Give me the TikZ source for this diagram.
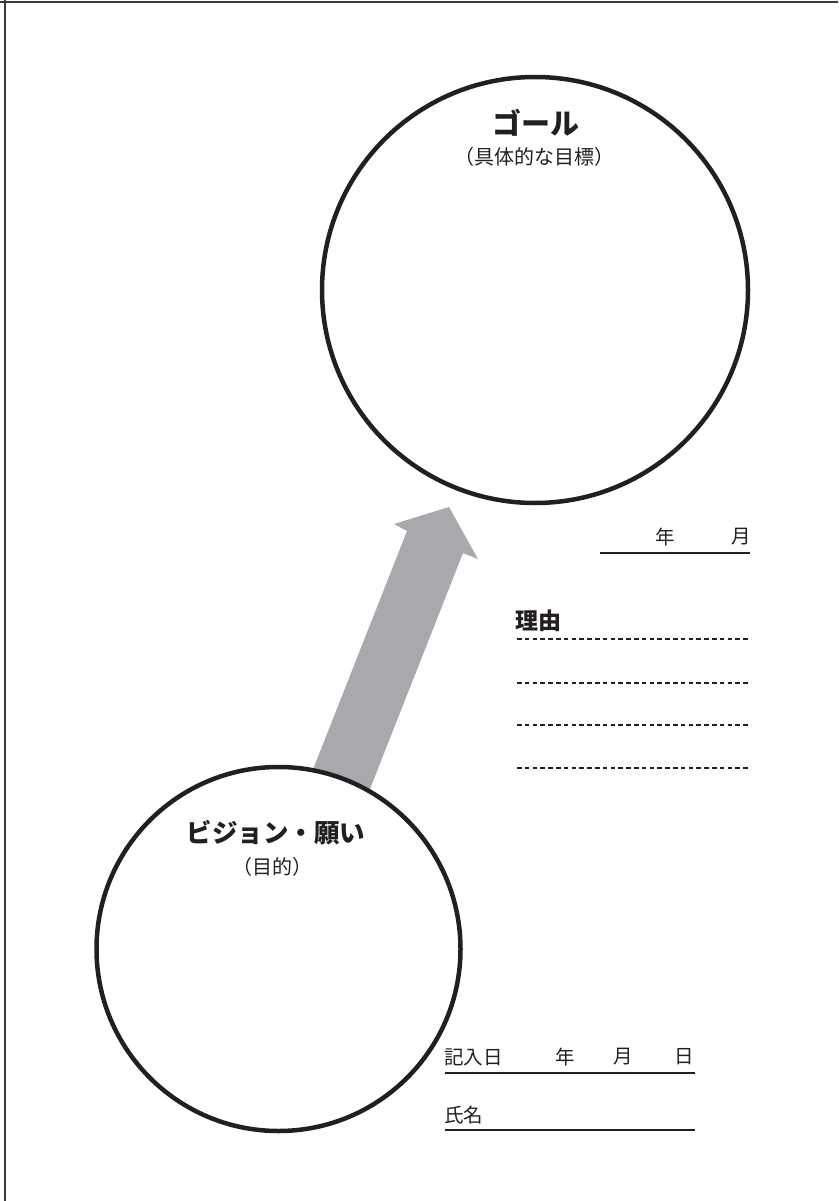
\documentclass[tikz,border=0pt]{standalone}
\usepackage{fontspec}
\newfontfamily\jp{Noto Sans CJK JP}
\definecolor{inkc}{HTML}{231F20}
\definecolor{arrowgray}{HTML}{A7A9AC}
\definecolor{bordc}{HTML}{3A3A3A}
\begin{document}
\begin{tikzpicture}[x=1pt,y=-1pt,
  bigcircle/.style={circle, draw=inkc, line width=4.5pt, fill=white, inner sep=0pt, outer sep=0pt},
  titletext/.style={font=\jp\bfseries\fontsize{29}{31}\selectfont, text=inkc, inner sep=0pt},
  subtext/.style={font=\jp\fontsize{20}{22}\selectfont, text=inkc, inner sep=0pt},
  formtext/.style={font=\jp\fontsize{19.5}{21}\selectfont, text=inkc, inner sep=0pt},
  formline/.style={draw=inkc, line width=2.5pt},
  dotline/.style={draw=inkc, line width=2.8pt, dash pattern=on 4.5pt off 3.3pt}]
\useasboundingbox (0,0) rectangle (838,1201);
\fill[white] (0,0) rectangle (838,1201);
% frame (top and left edges)
\draw[bordc, line width=2pt] (0,2) -- (838,2);
\draw[bordc, line width=2pt] (4.5,0) -- (4.5,1201);
% arrow
\fill[arrowgray] (297,810) -- (407,531) -- (394,524) -- (449,507) -- (478,559) -- (463,553) -- (353,832) -- cycle;
% circles
\node[bigcircle, minimum size=426pt] (goal) at (535,290) {};
\node[bigcircle, minimum size=364pt] (vision) at (278.5,949) {};
% circle texts
\node[titletext] (goaltitle) at (536,123) {ゴール};
\node[subtext] (goalsub) at (534,157) {（具体的な目標）};
\node[titletext, font=\jp\bfseries\fontsize{25.5}{28}\selectfont] (vistitle) at (276,833) {ビジョン・願い};
\node[subtext] (vissub) at (272,867) {（目的）};
% year month
\node[formtext] (gy) at (665,537) {年};
\node[formtext] (gm) at (741,537) {月};
\draw[formline] (600,553) -- (750,553);
% reasons
\node[titletext, font=\jp\bfseries\fontsize{23}{25}\selectfont, anchor=west] (reason) at (515,621) {理由};
\draw[dotline] (517,639) -- (751,639);
\draw[dotline] (517,683) -- (751,683);
\draw[dotline] (517,725) -- (751,725);
\draw[dotline] (517,768) -- (751,768);
% form
\node[formtext, anchor=west] (entry) at (444,1057) {記入日};
\node[formtext] (ey) at (565,1057) {年};
\node[formtext] (em) at (623,1057) {月};
\node[formtext] (ed) at (684,1057) {日};
\draw[formline] (445,1073) -- (695,1073);
\node[formtext, anchor=west] (name) at (444,1115) {氏名};
\draw[formline] (445,1130) -- (695,1130);
\end{tikzpicture}
\end{document}
